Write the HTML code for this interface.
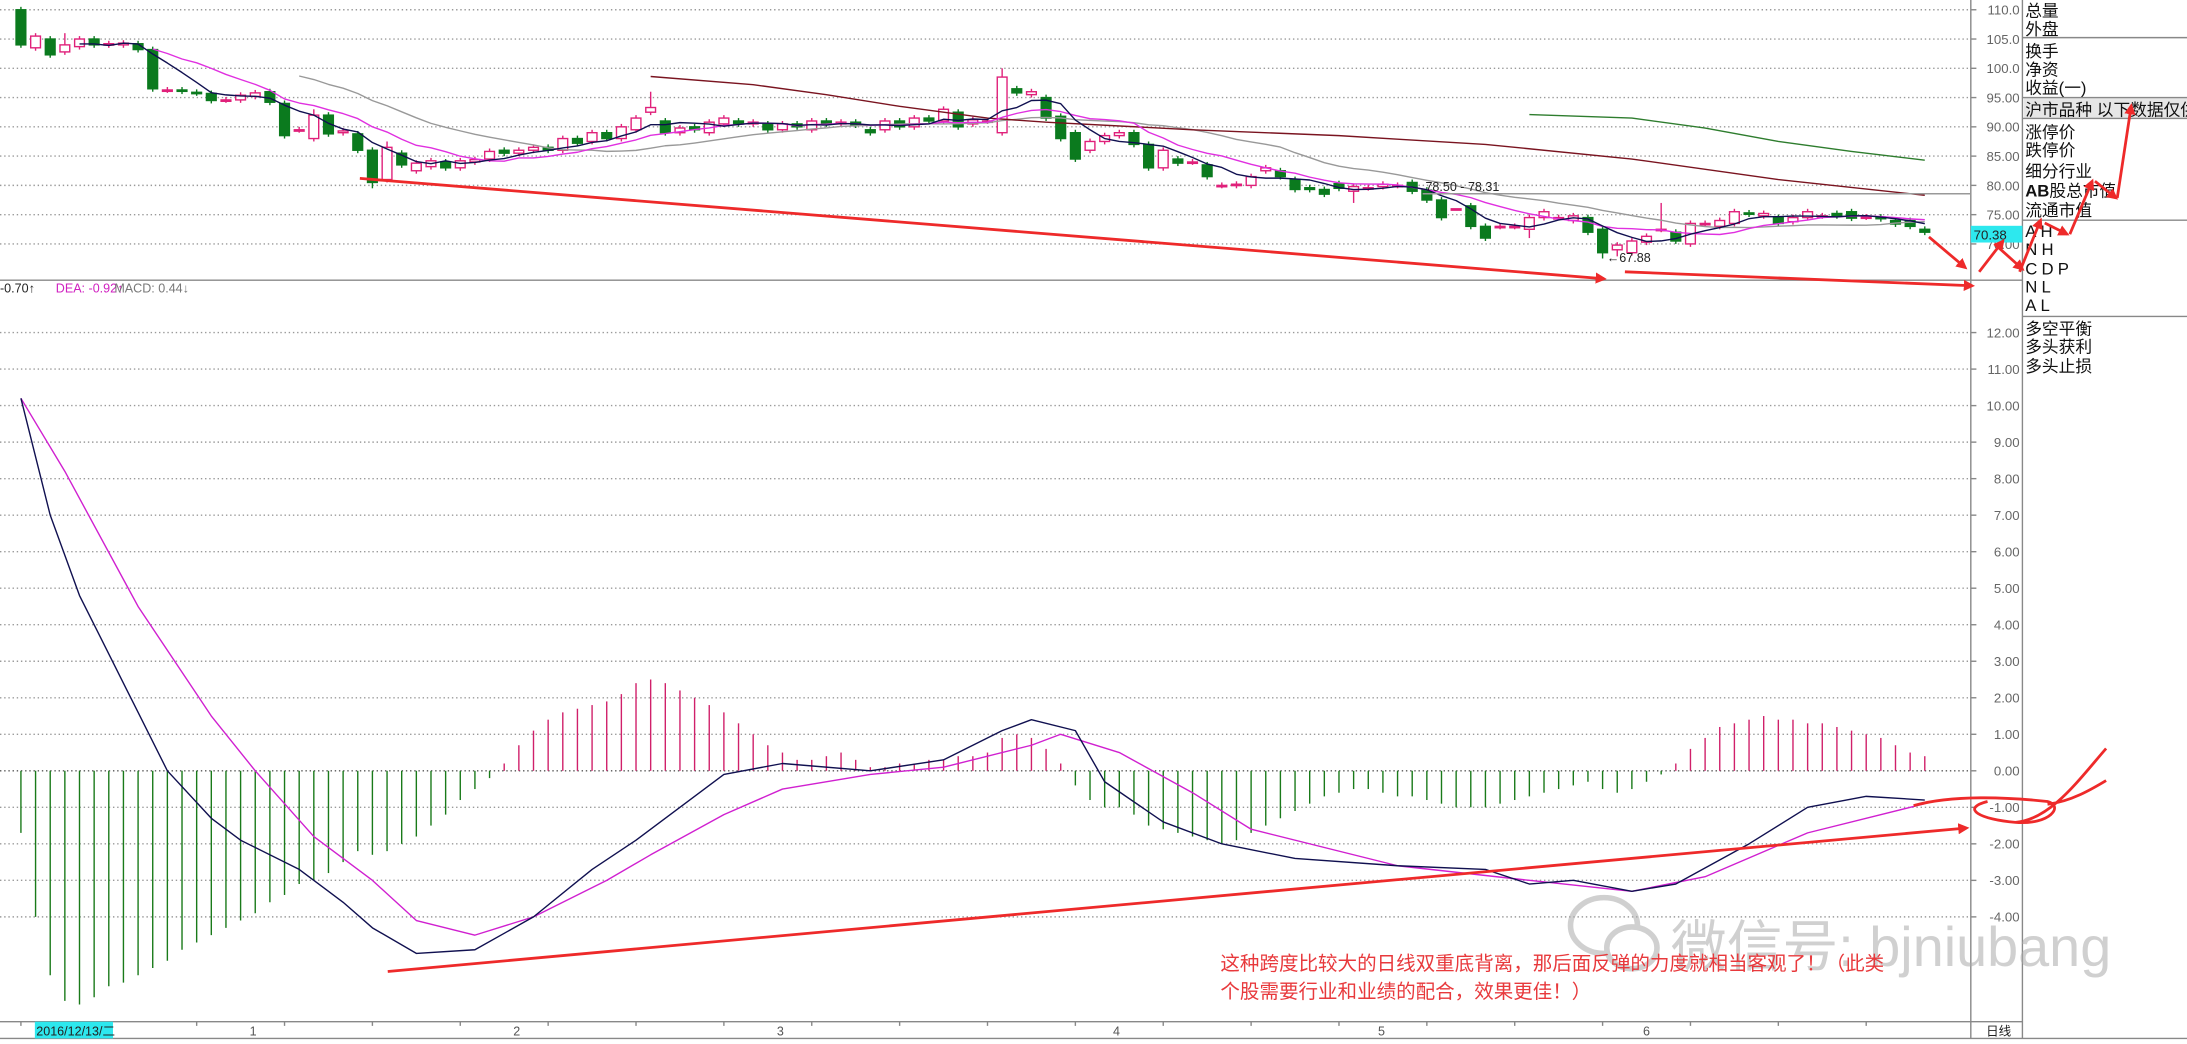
<!DOCTYPE html>
<html><head><meta charset="utf-8"><style>
html,body{margin:0;padding:0;background:#fff;overflow:hidden}
svg{display:block}
text{font-family:"Liberation Sans","Noto Sans CJK SC",sans-serif}
</style></head><body>
<svg id="chart" width="2187" height="1044" viewBox="0 0 1568 749" preserveAspectRatio="none" xmlns="http://www.w3.org/2000/svg">
<rect x="0" y="0" width="1568" height="749" fill="#fff"/>
<g id="grid"></g>
<g id="candles" clip-path="url(#pclip)"></g>
<g id="malines" clip-path="url(#pclip)"></g>
<g id="macd"></g>
<defs>
<clipPath id="pclip"><rect x="0" y="0" width="1413" height="201"/></clipPath>
<marker id="ah" markerWidth="8" markerHeight="8" refX="6" refY="4" orient="auto" markerUnits="userSpaceOnUse"><path d="M0,0 L8,4 L0,8 z" fill="#ee2a2a"/></marker>
</defs>
<g stroke="#888" stroke-width="1" fill="none">
<line x1="1413" y1="0" x2="1413" y2="745"/>
<line x1="1450" y1="0" x2="1450" y2="745"/>
<line x1="0" y1="201" x2="1450" y2="201"/>
<line x1="0" y1="733" x2="1450" y2="733"/>
<line x1="0" y1="745" x2="1568" y2="745"/>
<line x1="1020" y1="139" x2="1413" y2="139" stroke="#999"/>
</g>
<g id="axes"></g>
<text x="1022" y="137" font-size="9" fill="#222">78.50 - 78.31</text>
<text x="1152" y="188" font-size="9" fill="#222">←67.88</text>
<rect x="1413" y="162" width="37" height="12" fill="#2de8ee"/>
<text x="1415" y="172" font-size="9.5" fill="#222">70.38</text>
<g font-size="9">
<text x="0" y="210" fill="#222">-0.70↑</text>
<text x="40" y="210" fill="#d020c0">DEA: -0.92↑</text>
<text x="82" y="210" fill="#777">MACD: 0.44↓</text>
</g>
<g font-size="12" fill="#111">
<rect x="1451" y="70" width="117" height="15" fill="#e6e6e6"/>
<g stroke="#888"><line x1="1450" y1="27" x2="1568" y2="27"/><line x1="1450" y1="70" x2="1568" y2="70"/><line x1="1450" y1="85" x2="1568" y2="85"/><line x1="1450" y1="158" x2="1568" y2="158"/><line x1="1450" y1="227" x2="1568" y2="227"/></g>
<text x="1452" y="12">总量</text><text x="1452" y="25">外盘</text>
<text x="1452" y="41">换手</text><text x="1452" y="54">净资</text><text x="1452" y="67">收益(一)</text>
<text x="1452" y="83">沪市品种  以下数据仅供</text>
<text x="1452" y="99">涨停价</text><text x="1452" y="112">跌停价</text><text x="1452" y="127">细分行业</text>
<text x="1452" y="141"><tspan font-weight="bold">AB</tspan>股总市值</text><text x="1452" y="155">流通市值</text>
<text x="1452" y="170" letter-spacing="3">AH</text><text x="1452" y="183" letter-spacing="3">NH</text><text x="1452" y="197" letter-spacing="3">CDP</text><text x="1452" y="210" letter-spacing="3">NL</text><text x="1452" y="223" letter-spacing="3">AL</text>
<text x="1452" y="240">多空平衡</text><text x="1452" y="253">多头获利</text><text x="1452" y="267">多头止损</text>
</g>
<g font-size="9" fill="#555">
<rect x="25" y="733" width="56" height="12" fill="#2de8ee"/>
<text x="26" y="743" fill="#222">2016/12/13/二</text>
<text x="179" y="743">1</text><text x="368" y="743">2</text><text x="557" y="743">3</text><text x="798" y="743">4</text><text x="988" y="743">5</text><text x="1178" y="743">6</text>
<text x="1424" y="743" fill="#222">日线</text>
</g>
<g stroke="#ee2a2a" stroke-width="2" fill="none">
<line x1="258" y1="128" x2="1150" y2="200" marker-end="url(#ah)"/>
<line x1="1165" y1="195" x2="1414" y2="205" marker-end="url(#ah)"/>
<line x1="1383" y1="170" x2="1409" y2="192" marker-end="url(#ah)"/>
<polyline points="1419,195 1436,173" marker-end="url(#ah)"/>
<polyline points="1430,175 1450,193" marker-end="url(#ah)"/>
<polyline points="1448,195 1463,158" marker-end="url(#ah)"/>
<polyline points="1466,160 1482,168" marker-end="url(#ah)"/>
<polyline points="1484,168 1500,130" marker-end="url(#ah)"/>
<polyline points="1502,130 1517,142" marker-end="url(#ah)"/>
<polyline points="1518,142 1528,76" marker-end="url(#ah)"/>
<line x1="278" y1="697" x2="1410" y2="594" marker-end="url(#ah)"/>
<path d="M1372,578 C1400,570 1440,572 1468,575 C1480,578 1470,592 1445,590 C1420,588 1405,580 1425,575 M1445,590 C1470,588 1490,560 1510,537 M1468,577 C1485,575 1500,566 1510,560"/>
</g>
<g opacity="0.55">
<ellipse cx="1150" cy="664" rx="24" ry="20" fill="none" stroke="#aaa" stroke-width="4"/>
<ellipse cx="1170" cy="680" rx="18" ry="15" fill="#fff" stroke="#aaa" stroke-width="4"/>
<text x="1198" y="693" font-size="40" fill="#aaa">微信号: bjniubang</text>
</g>
<g font-size="14" fill="#e8393c">
<text x="875" y="696">这种跨度比较大的日线双重底背离，那后面反弹的力度就相当客观了！（此类</text>
<text x="875" y="716">个股需要行业和业绩的配合，效果更佳！）</text>
</g>
</svg>
<script>
const opens=[110,103.5,105,102.8,103.7,105,104,104,104.2,103.2,96.3,96.3,95.9,95.7,94.6,94.6,95.2,96,94,89.5,88,92,89,88.8,86,81,85.5,82.5,83.2,84,83,84,84.5,86,85.5,86,86.5,86,88,87.5,89,88,89.5,92.5,91,89,90,89,90.5,91,90.5,90.5,89.5,90.5,89.5,91,90.5,90.8,89.5,89.5,91,90,91.5,91,92.5,90.5,91,89,96.5,95.5,95,91.8,89,86,87.5,88.5,89,87,83,84.5,84,83.5,80,80,80,82.5,82.5,81,79.6,79.3,80.3,79,79.6,79.8,80,80.5,79.2,77.5,76,76.5,73,73,73,72.5,74.5,74.5,74,74.5,72.5,69,68.5,70.3,72.5,72,70,73.5,73,73.5,75.3,74.8,74.5,73.8,74.5,74.8,75.2,75.5,74.6,74.6,74,74,72.5];
const closes=[104,105.5,102.3,104,105,104,104.2,104.3,103.2,96.5,96.3,96.1,95.8,94.5,94.6,95.4,95.8,94.2,88.5,89.5,92,88.8,89.3,86,80.5,86.5,83.5,83.8,84.2,83,84.2,84.4,85.8,85.5,86,86.5,86,88,87.2,89,88,90,91.5,93.3,89,89.8,89.5,90.8,91.5,90.5,90.8,89.5,90.5,90,91,90.5,90.8,90.3,89,91,90,91.5,91,93,90,91.2,91,98.5,95.8,96,91.5,88,84.5,87.5,88.5,89,87,83,86,83.8,84,81.5,80,80.2,81.5,83,81.5,79.3,79.3,78.5,79.5,79.8,79.6,80.2,80,79,77.5,74.5,76,73,71,73,73,74.5,75.5,74.5,74.8,72,68.5,69.8,70.5,71.3,72.5,70.5,73.5,73.5,74,75.5,75.1,75.2,73.5,74.5,75.5,74.8,74.8,74.4,74.6,74.3,73.4,73,72];
const wickHighIdx=[43,67,112,3,20,25];
const wickHighVal=[96,100,77,106,93,87.5];
const wickLowIdx=[24,108,109,91,103,98];
const wickLowVal=[79.5,67.5,67.88,77,71,76.5];
const ma60Idx=[43,50,55,60,66,70,80,90,94,100,110,120,130];
const ma60Val=[98.6,97.2,95.5,93.5,91.5,90.8,89.5,88.5,87.9,87,84.5,81,78.3];
const ma120Idx=[103,110,115,120,125,130];
const ma120Val=[92.1,91.5,89.8,87.5,85.8,84.3];
const histVals=[-1.7,-4.0,-5.6,-6.3,-6.4,-6.2,-5.9,-5.8,-5.6,-5.4,-5.2,-4.9,-4.7,-4.5,-4.3,-4.1,-3.9,-3.6,-3.4,-3.1,-3.0,-2.8,-2.5,-2.2,-2.3,-2.2,-2.0,-1.8,-1.5,-1.2,-0.8,-0.5,-0.2,0.2,0.7,1.1,1.4,1.6,1.7,1.8,1.9,2.1,2.4,2.5,2.4,2.2,2.0,1.8,1.6,1.3,1.0,0.7,0.5,0.3,0.3,0.4,0.5,0.3,0.1,0.1,0.2,0.2,0.3,0.3,0.4,0.4,0.5,0.9,1.0,0.9,0.6,0.2,-0.4,-0.8,-1.0,-1.0,-1.2,-1.5,-1.6,-1.7,-1.8,-1.9,-2.0,-1.9,-1.7,-1.5,-1.3,-1.1,-0.9,-0.7,-0.6,-0.5,-0.5,-0.6,-0.7,-0.7,-0.8,-0.9,-1.0,-1.0,-1.0,-0.9,-0.8,-0.7,-0.6,-0.5,-0.4,-0.3,-0.5,-0.6,-0.5,-0.3,-0.1,0.2,0.6,0.9,1.2,1.3,1.4,1.5,1.4,1.4,1.3,1.3,1.2,1.1,1.0,0.9,0.7,0.5,0.4];
const difIdx=[0,2,4,6,8,10,13,15,19,22,24,27,31,35,39,42,45,48,52,58,63,67,69,72,74,78,82,87,94,100,103,106,110,113,118,122,126,130];
const difVal=[10.2,7.0,4.8,3.2,1.6,0.0,-1.3,-1.9,-2.7,-3.6,-4.3,-5.0,-4.9,-4.0,-2.7,-1.9,-1.0,-0.1,0.2,0.0,0.3,1.1,1.4,1.1,-0.3,-1.4,-2.0,-2.4,-2.6,-2.7,-3.1,-3.0,-3.3,-3.1,-2.0,-1.0,-0.7,-0.8];
const deaIdx=[0,3,8,13,16,20,24,27,31,35,40,43,48,52,58,63,69,71,75,80,84,94,103,110,115,122,130];
const deaVal=[10.2,8.2,4.5,1.5,0.0,-1.8,-3.0,-4.1,-4.5,-4.0,-3.0,-2.3,-1.2,-0.5,-0.1,0.1,0.7,1.0,0.5,-0.6,-1.6,-2.6,-3.0,-3.3,-2.9,-1.7,-0.9];
const priceTicks=[110,105,100,95,90,85,80,75,70];
const macdTicks=[12,11,10,9,8,7,6,5,4,3,2,1,0,-1,-2,-3,-4];

const NS='http://www.w3.org/2000/svg';
const X=i=>15+10.5*i;
const PY=p=>7+(110-p)*4.2;
const MY=v=>553-v*26.2;
function mk(tag,attrs,parent){const e=document.createElementNS(NS,tag);for(const k in attrs)e.setAttribute(k,attrs[k]);parent.appendChild(e);return e;}
const grid=document.getElementById('grid'),axes=document.getElementById('axes');
priceTicks.forEach(p=>{
  const l=mk('line',{x1:0,y1:PY(p),x2:1413,y2:PY(p),stroke:'#999','stroke-dasharray':'1,2'},grid);
  
  
  const t=mk('text',{x:1448,y:PY(p)+3.5,'font-size':9.5,fill:'#666','text-anchor':'end'},axes);
  t.textContent=p>=100?p.toFixed(1):p.toFixed(2);
  
  
  mk('line',{x1:1413,y1:PY(p),x2:1417,y2:PY(p),stroke:'#888'},axes);
});
macdTicks.forEach(v=>{
  const l=mk('line',{x1:0,y1:MY(v),x2:1413,y2:MY(v),stroke:v===0?'#555':'#999','stroke-dasharray':'1,2'},grid);
  
  
  const t=mk('text',{x:1448,y:MY(v)+3.5,'font-size':9.5,fill:'#666','text-anchor':'end'},axes);
  t.textContent=v.toFixed(2);
  
  
  mk('line',{x1:1413,y1:MY(v),x2:1417,y2:MY(v),stroke:'#888'},axes);
});
for(let k=0;k<22;k++){mk('line',{x1:15+k*63,y1:733,x2:15+k*63,y2:736,stroke:'#888'},axes);}
const cg=document.getElementById('candles');
opens.forEach((o,i)=>{
  const c=closes[i];
  let hi=Math.max(o,c)+0.5,lo=Math.min(o,c)-0.5;
  const hk=wickHighIdx.indexOf(i);if(hk>=0)hi=wickHighVal[hk];
  const lk=wickLowIdx.indexOf(i);if(lk>=0)lo=wickLowVal[lk];
  const up=c>=o,col=up?'#e0207a':'#0b7a1e';
  const g=mk('g',{},cg);
  
  
  mk('line',{x1:X(i),y1:PY(hi),x2:X(i),y2:PY(lo),stroke:col,'stroke-width':1},g);
  const top=PY(Math.max(o,c)),h=Math.max(1,PY(Math.min(o,c))-top);
  mk('rect',{x:X(i)-3.5,y:top,width:7,height:h,fill:up?'#fff':col,stroke:col,'stroke-width':1},g);
});
function ma(n){const r=[];for(let i=n-1;i<closes.length;i++){let s=0;for(let j=i-n+1;j<=i;j++)s+=closes[j];r.push([i,s/n]);}return r;}
const mg=document.getElementById('malines');
function poly(pts,col,name,yf,parent,w){
  const p=mk('polyline',{points:pts.map(q=>X(q[0])+','+yf(q[1])).join(' '),fill:'none',stroke:col,'stroke-width':w||1,'stroke-linejoin':'round'},parent);
  
  
}
poly(ma(20),'#999','ma20-line',PY,mg);
poly(ma60Idx.map((v,k)=>[v,ma60Val[k]]),'#7a1420','ma60-line',PY,mg);
poly(ma120Idx.map((v,k)=>[v,ma120Val[k]]),'#2e7d2e','ma120-line',PY,mg);
poly(ma(10),'#e030e0','ma10-line',PY,mg);
poly(ma(5),'#101050','ma5-line',PY,mg);
const md=document.getElementById('macd');
histVals.forEach((v,i)=>{
  const l=mk('line',{x1:X(i),y1:MY(0),x2:X(i),y2:MY(v),stroke:v>=0?'#d0206a':'#1a7a1a','stroke-width':1},md);
  
  
});
poly(deaIdx.map((v,k)=>[v,deaVal[k]]),'#d020d0','dea-line',MY,md);
poly(difIdx.map((v,k)=>[v,difVal[k]]),'#101050','dif-line',MY,md);
</script>
</body></html>
